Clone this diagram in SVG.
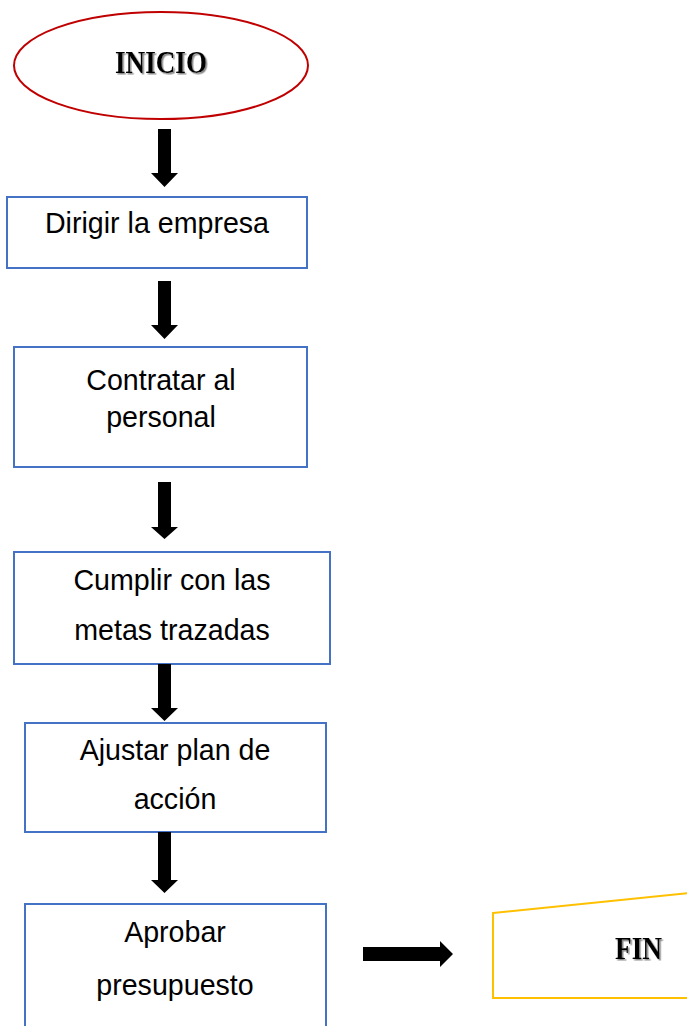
<svg xmlns="http://www.w3.org/2000/svg" width="687" height="1026" viewBox="0 0 687 1026">
<style>
.box{fill:#fff;stroke:#4472C4;stroke-width:2}
.t{font-family:"Liberation Sans",Arial,sans-serif;font-size:28.6px;fill:#000;text-anchor:middle}
.d{font-family:"Liberation Serif","Times New Roman",serif;font-weight:bold;font-size:32px;fill:#000}
.arr{fill:#000}
</style>
<defs>
<filter id="sh" x="-10%" y="-20%" width="130%" height="150%">
<feDropShadow dx="1.5" dy="1.5" stdDeviation="0.3" flood-color="#888"/>
</filter>
</defs>
<rect width="687" height="1026" fill="#fff"/>
<g id="inicio">
<ellipse cx="161" cy="65.5" rx="147" ry="53.5" fill="#fff" stroke="#C00000" stroke-width="2"/>
<text class="d" x="115" y="73" textLength="92" lengthAdjust="spacingAndGlyphs" filter="url(#sh)">INICIO</text>
</g>
<g id="dirigir">
<rect class="box" x="7" y="197" width="300" height="71"/>
<text class="t" x="157" y="233">Dirigir la empresa</text>
</g>
<g id="contratar">
<rect class="box" x="14" y="347" width="293" height="120"/>
<text class="t" x="161" y="390">Contratar al</text>
<text class="t" x="161" y="427">personal</text>
</g>
<g id="cumplir">
<rect class="box" x="14" y="552" width="316" height="112"/>
<text class="t" x="172" y="590">Cumplir con las</text>
<text class="t" x="172" y="640">metas trazadas</text>
</g>
<g id="ajustar">
<rect class="box" x="25" y="723" width="301" height="109"/>
<text class="t" x="175" y="760">Ajustar plan de</text>
<text class="t" x="175" y="809">acción</text>
</g>
<g id="aprobar">
<rect class="box" x="25" y="904" width="301" height="130"/>
<text class="t" x="175" y="942">Aprobar</text>
<text class="t" x="175" y="995">presupuesto</text>
</g>
<g id="fin">
<polygon points="493,913 700,892 700,998 493,998" fill="#fff" stroke="#FFC000" stroke-width="2"/>
<text class="d" x="615" y="959" textLength="47" lengthAdjust="spacingAndGlyphs" filter="url(#sh)">FIN</text>
</g>
<g id="connectors">
<polygon class="arr" points="158,129 171,129 171,173 178,173 164.5,187 151,173 158,173"/>
<polygon class="arr" points="158,281 171,281 171,325 178,325 164.5,339 151,325 158,325"/>
<polygon class="arr" points="158,482 171,482 171,527 178,527 164.5,539 151,527 158,527"/>
<polygon class="arr" points="158,664 171,664 171,708 178,708 164.5,721 151,708 158,708"/>
<polygon class="arr" points="158,832 171,832 171,880 178,880 164.5,893 151,880 158,880"/>
<polygon class="arr" points="363,947 440,947 440,941 453,954 440,967 440,961 363,961"/>
</g>
</svg>
